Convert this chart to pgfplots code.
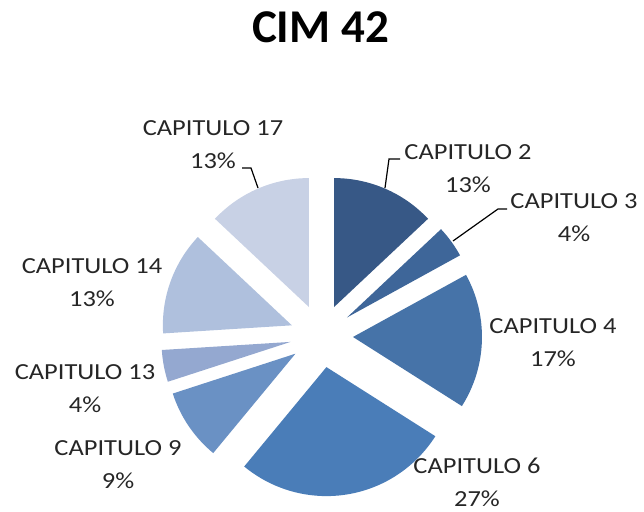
\documentclass[border=0pt]{standalone}
\usepackage{pgfplots}
\pgfplotsset{compat=1.18}
\usepackage{pgfplotstable}
\usepackage{fontspec}
\setmainfont{Carlito}
\newfontfamily\labfont[FakeStretch=1.15]{Carlito}

\definecolor{c2}{RGB}{55,88,134}
\definecolor{c3}{RGB}{62,102,153}
\definecolor{c4}{RGB}{70,115,168}
\definecolor{c6}{RGB}{74,125,184}
\definecolor{c9}{RGB}{106,145,196}
\definecolor{c13}{RGB}{148,168,208}
\definecolor{c14}{RGB}{175,192,221}
\definecolor{c17}{RGB}{200,209,229}

\pgfplotstableread{
label value color
CAPITULO_2 13 c2
CAPITULO_3 4 c3
CAPITULO_4 17 c4
CAPITULO_6 27 c6
CAPITULO_9 9 c9
CAPITULO_13 4 c13
CAPITULO_14 13 c14
CAPITULO_17 13 c17
}\piedata

\begin{document}
\begin{tikzpicture}
\begin{axis}[
  scale only axis, width=322pt, height=256pt,
  xmin=0, xmax=644, ymin=0, ymax=512, y dir=reverse,
  hide axis, clip=false,
]
\path (axis cs:0,0) rectangle (axis cs:644,512);
\def\cx{321.5}
\def\cy{336}
\def\rr{64.5pt}
\def\dd{15.75pt}
\def\cum{0}
\pgfplotsforeachungrouped \i in {0,...,7}{%
  \pgfplotstablegetelem{\i}{value}\of\piedata \let\v=\pgfplotsretval
  \pgfplotstablegetelem{\i}{color}\of\piedata \let\c=\pgfplotsretval
  \pgfmathsetmacro\sa{90-3.6*\cum}%
  \pgfmathsetmacro\ea{90-3.6*(\cum+\v)}%
  \pgfmathsetmacro\ma{(\sa+\ea)/2}%
  \edef\temp{\noexpand\fill[\c] (axis cs:\cx,\cy) ++(\ma:\dd) -- ++(\sa:\rr) arc[start angle=\sa, end angle=\ea, radius=\rr] -- cycle;}%
  \temp
  \pgfmathsetmacro\cum{\cum+\v}%
}
% leader lines
\draw[black, line width=0.6pt] (axis cs:385,188) -- (axis cs:389,159) -- (axis cs:400,159);
\draw[black, line width=0.6pt] (axis cs:453,241) -- (axis cs:498,209) -- (axis cs:507,209);
\draw[black, line width=0.6pt] (axis cs:258,188) -- (axis cs:251,168) -- (axis cs:242,168);
% labels
\tikzset{lab/.style={align=center, inner sep=0pt, font=\labfont\fontsize{11.5}{16.5}\selectfont, text=black!85}}
\node[lab] at (axis cs:468,169) {CAPITULO 2\\13\%};
\node[lab] at (axis cs:574,218) {CAPITULO 3\\4\%};
\node[lab] at (axis cs:553,343) {CAPITULO 4\\17\%};
\node[lab] at (axis cs:477,482) {CAPITULO 6\\27\%};
\node[lab] at (axis cs:118,465) {CAPITULO 9\\9\%};
\node[lab] at (axis cs:85,389) {CAPITULO 13\\4\%};
\node[lab] at (axis cs:92,283) {CAPITULO 14\\13\%};
\node[lab] at (axis cs:213,145) {CAPITULO 17\\13\%};
% title
\node[anchor=base, inner sep=0pt, font=\fontsize{23.5}{28}\selectfont\bfseries] at (axis cs:320.5,43) {CIM 42};
\end{axis}
\end{tikzpicture}
\end{document}
